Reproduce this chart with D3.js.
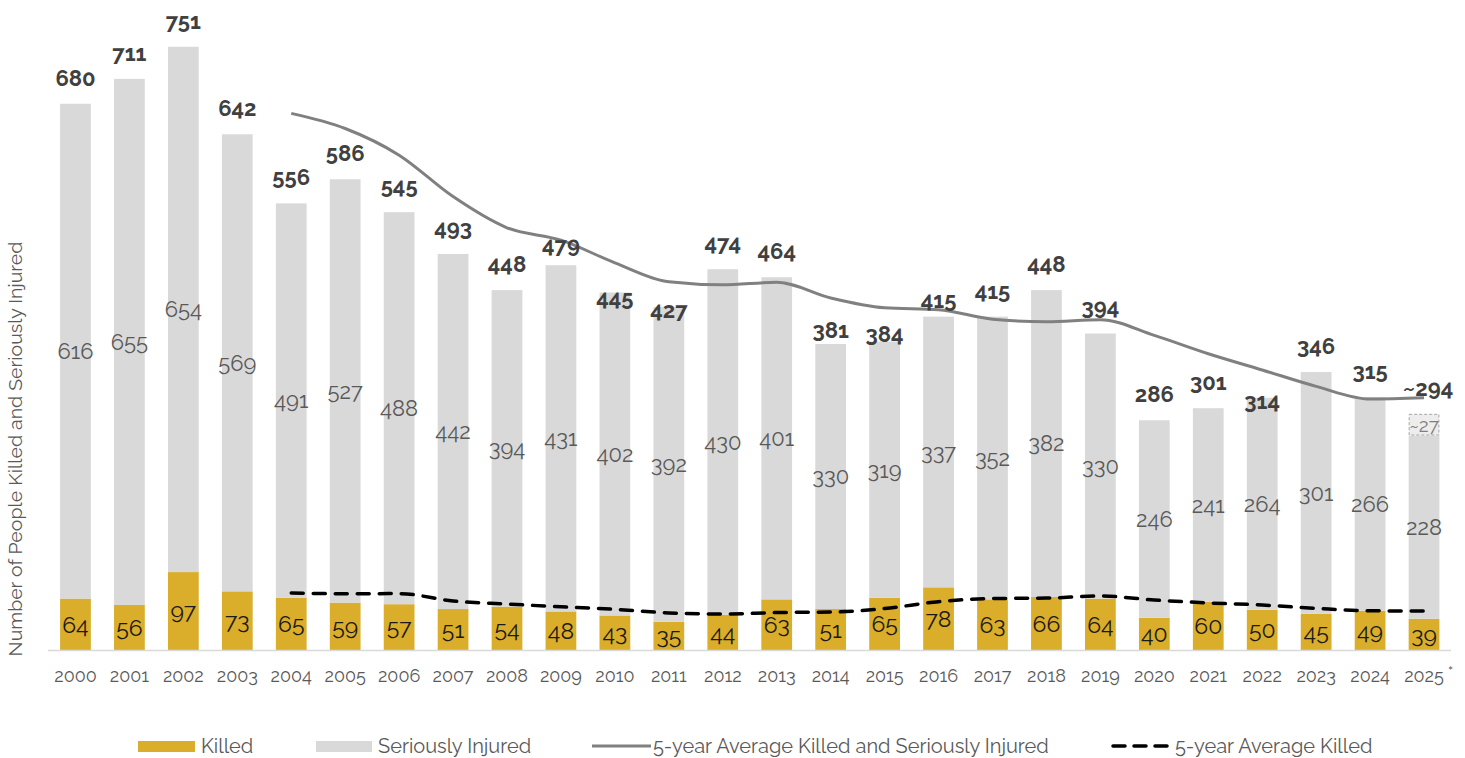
<!DOCTYPE html>
<html>
<head>
<meta charset="utf-8">
<script src="https://cdn.jsdelivr.net/npm/d3@7"></script>
<style>
	body { margin: 0; background: #fff; }
	svg { display: block; font-family: Raleway, Lato, sans-serif; }
</style>
</head>
<body>
<svg id="svg" width="1465" height="758"></svg>
<script>
// values
var years = ['2000','2001','2002','2003','2004','2005','2006','2007','2008','2009','2010','2011','2012',
	'2013','2014','2015','2016','2017','2018','2019','2020','2021','2022','2023','2024','2025'];
var killed = [64,56,97,73,65,59,57,51,54,48,43,35,44,63,51,65,78,63,66,64,40,60,50,45,49,39];
var injured = [616,655,654,569,491,527,488,442,394,431,402,392,430,401,330,319,337,352,382,330,246,241,264,301,266,228];
var pending = [0,0,0,0,0,0,0,0,0,0,0,0,0,0,0,0,0,0,0,0,0,0,0,0,0,27]; // estimated "~27" for 2025
var totals = [680,711,751,642,556,586,545,493,448,479,445,427,474,464,381,384,415,415,448,394,286,301,314,346,315,294];
var avgYears = years.slice(4);
var avgKsi = [668,649.2,616,564.4,525.6,510.2,482,458.4,454.6,457.8,438.2,426,423.6,411.8,408.6,411.2,391.6,368.8,348.6,328.2,312.4,314];
var avgKilled = [71,70,70.2,61,57.2,53.8,50.6,46.2,44.8,46.6,47.2,51.6,60.2,64,64.6,67.2,62.2,58.6,56,51.8,48.8,48.6];

var GOLD = '#DAAD2A', GREY = '#D9D9D9';

// total labels sit above the bar, a few were nudged by hand in the original
var totalNudge = { '2009': 6, '2010': 32, '2011': 29, '2014': 12, '2015': 19, '2016': 9, '2022': 29 };

var svg = d3.select('#svg');

var x = d3.scaleBand()
	.domain(years)
	.range([48.5, 1451])
	.paddingInner(0.43)
	.paddingOuter(0.215);

var y = d3.scaleLinear()
	.domain([0, 800])
	.range([650, 650 - 800 * 0.8033]);

var cx = function(d){ return x(d) + x.bandwidth() / 2; };

// bars
var g = svg.append('g');

g.selectAll('rect.killed')
	.data(years)
	.enter()
	.append('rect')
	.attr('class', 'killed')
	.attr('x', function(d){ return x(d); })
	.attr('width', x.bandwidth())
	.attr('y', function(d, i){ return y(killed[i]); })
	.attr('height', function(d, i){ return y(0) - y(killed[i]); })
	.style('fill', GOLD);

g.selectAll('rect.injured')
	.data(years)
	.enter()
	.append('rect')
	.attr('class', 'injured')
	.attr('x', function(d){ return x(d); })
	.attr('width', x.bandwidth())
	.attr('y', function(d, i){ return y(killed[i] + injured[i]); })
	.attr('height', function(d, i){ return y(killed[i]) - y(killed[i] + injured[i]); })
	.style('fill', GREY);

g.selectAll('rect.pending')
	.data(years.filter(function(d, i){ return pending[i] > 0; }))
	.enter()
	.append('rect')
	.attr('class', 'pending')
	.attr('x', function(d){ return x(d) + 0.5; })
	.attr('width', x.bandwidth() - 1)
	.attr('y', function(d){ var i = years.indexOf(d); return y(totals[i]) + 0.5; })
	.attr('height', function(d){ var i = years.indexOf(d); return y(killed[i] + injured[i]) - y(totals[i]) - 1; })
	.style('fill', '#EDEDED')
	.style('stroke', '#A6A6A6')
	.style('stroke-width', 1)
	.style('stroke-dasharray', '3,2');

// baseline
svg.append('line')
	.attr('x1', 48).attr('x2', 1451)
	.attr('y1', y(0) + 0.5).attr('y2', y(0) + 0.5)
	.style('stroke', '#D9D9D9')
	.style('stroke-width', 1.5);

// average lines
var line = d3.line()
	.x(function(d){ return cx(d[0]); })
	.y(function(d){ return y(d[1]); })
	.curve(d3.curveMonotoneX);

svg.append('path')
	.datum(avgYears.map(function(d, i){ return [d, avgKsi[i]]; }))
	.attr('d', line)
	.style('fill', 'none')
	.style('stroke', '#808080')
	.style('stroke-width', 3);

svg.append('path')
	.datum(avgYears.map(function(d, i){ return [d, avgKilled[i]]; }))
	.attr('d', line)
	.style('fill', 'none')
	.style('stroke', '#000')
	.style('stroke-width', 3.5)
	.style('stroke-dasharray', '12,10')
	.style('stroke-linecap', 'round');

// labels
svg.selectAll('text.killedLbl')
	.data(years)
	.enter()
	.append('text')
	.attr('class', 'killedLbl')
	.attr('x', cx)
	.attr('y', function(d, i){ return y(killed[i] / 2); })
	.attr('dy', '0.36em')
	.attr('text-anchor', 'middle')
	.style('font-size', '23px')
	.style('fill', '#1A1A1A')
	.text(function(d, i){ return killed[i]; });

svg.selectAll('text.injuredLbl')
	.data(years)
	.enter()
	.append('text')
	.attr('class', 'injuredLbl')
	.attr('x', cx)
	.attr('y', function(d, i){ return y(killed[i] + injured[i] / 2); })
	.attr('dy', '0.36em')
	.attr('text-anchor', 'middle')
	.style('font-size', '22px')
	.style('fill', '#595959')
	.text(function(d, i){ return injured[i]; });

svg.selectAll('text.pendingLbl')
	.data(years.filter(function(d, i){ return pending[i] > 0; }))
	.enter()
	.append('text')
	.attr('class', 'pendingLbl')
	.attr('x', cx)
	.attr('y', function(d){ var i = years.indexOf(d); return y(totals[i] - pending[i] / 2); })
	.attr('dy', '0.36em')
	.attr('text-anchor', 'middle')
	.style('font-size', '19px')
	.style('fill', '#7F7F7F')
	.text(function(d){ return '~' + pending[years.indexOf(d)]; });

svg.selectAll('text.totalLbl')
	.data(years)
	.enter()
	.append('text')
	.attr('class', 'totalLbl')
	.attr('x', function(d){ return cx(d) + (d === '2025' ? 4 : 0); })
	.attr('y', function(d, i){ return y(totals[i]) - 26 + (totalNudge[d] || 0); })
	.attr('dy', '0.36em')
	.attr('text-anchor', 'middle')
	.style('font-size', '22px')
	.style('font-weight', 'bold')
	.style('fill', '#404040')
	.text(function(d, i){ return (d === '2025' ? '~' : '') + totals[i]; });

// x axis labels
svg.selectAll('text.tick')
	.data(years)
	.enter()
	.append('text')
	.attr('class', 'tick')
	.attr('x', cx)
	.attr('y', 682)
	.attr('text-anchor', 'middle')
	.style('font-size', '18px')
	.style('fill', '#595959')
	.text(function(d){ return d; });

// superscript asterisk on the provisional year
svg.append('text')
	.attr('x', cx('2025') + 24)
	.attr('y', 675)
	.style('font-family', 'Lato, sans-serif')
	.style('font-size', '12px')
	.style('fill', '#595959')
	.text('*');

// y title
svg.append('text')
	.attr('transform', 'translate(22,449) rotate(-90)')
	.attr('text-anchor', 'middle')
	.style('font-size', '19.5px')
	.style('fill', '#595959')
	.text('Number of People Killed and Seriously Injured');

// legend
var legend = svg.append('g').style('font-size', '20px').style('fill', '#595959');

legend.append('rect').attr('x', 138).attr('y', 741).attr('width', 57).attr('height', 11).style('fill', GOLD);
legend.append('text').attr('x', 201).attr('y', 753).text('Killed');

legend.append('rect').attr('x', 316).attr('y', 741).attr('width', 56).attr('height', 11).style('fill', GREY);
legend.append('text').attr('x', 378).attr('y', 753).text('Seriously Injured');

legend.append('line').attr('x1', 592).attr('x2', 651).attr('y1', 746).attr('y2', 746)
	.style('stroke', '#808080').style('stroke-width', 3);
legend.append('text').attr('x', 653).attr('y', 753).text('5-year Average Killed and Seriously Injured');

legend.append('line').attr('x1', 1113).attr('x2', 1171).attr('y1', 746).attr('y2', 746)
	.style('stroke', '#000').style('stroke-width', 3.5)
	.style('stroke-dasharray', '12,9').style('stroke-linecap', 'round');
legend.append('text').attr('x', 1175).attr('y', 753).text('5-year Average Killed');
</script>
</body>
</html>
